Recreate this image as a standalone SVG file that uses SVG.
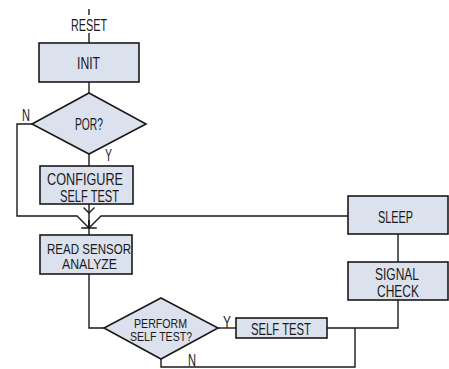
<svg xmlns="http://www.w3.org/2000/svg" width="449" height="369" viewBox="0 0 449 369">
<style>
.box{fill:#dce1ee;stroke:#1a1a1a;stroke-width:1.6}
.ln{fill:none;stroke:#1a1a1a;stroke-width:1.4}
text{font-family:"Liberation Sans",Arial,sans-serif;font-size:16.5px;fill:#1a1a1a}
.c{text-anchor:middle}
.m{font-size:15.5px}
.s{font-size:13.5px}
</style>
<defs>
<marker id="ah" markerUnits="userSpaceOnUse" markerWidth="14" markerHeight="14" refX="7" refY="7" orient="auto">
<path d="M1.5,1.5 L7,7 L1.5,12.5" fill="none" stroke="#1a1a1a" stroke-width="1.4"/>
</marker>
</defs>
<rect width="449" height="369" fill="#fff"/>
<g id="connectors">
<path class="ln" d="M89,9 V15"/>
<path class="ln" d="M89,33 V43"/>
<path class="ln" d="M89,82 V93"/>
<path class="ln" d="M89,154 V166"/>
<path class="ln" d="M89,204 V213" marker-end="url(#ah)"/>
<path class="ln" d="M89,213 V235"/>
<path class="ln" d="M32,124 H17 V216 H77 L89,228" marker-end="url(#ah)"/>
<path class="ln" d="M348,216 H101 L89,228" marker-end="url(#ah)"/>
<path class="ln" d="M398,234 V262"/>
<path class="ln" d="M89,274 V328 H104"/>
<path class="ln" d="M218,328 H236"/>
<path class="ln" d="M327,328 H398 V300"/>
<path class="ln" d="M161,359 V367 H355 V328"/>
</g>
<g id="reset"><text class="c" x="89" y="31" textLength="36" lengthAdjust="spacingAndGlyphs">RESET</text></g>
<g id="init"><rect class="box" x="39" y="43" width="100" height="39"/><text class="c" x="88.5" y="69" textLength="23" lengthAdjust="spacingAndGlyphs">INIT</text></g>
<g id="por"><polygon class="box" points="89,93 146,124 89,154 32,124"/><text class="c" x="89" y="130" textLength="28" lengthAdjust="spacingAndGlyphs">POR?</text>
<text x="22" y="121" textLength="8" lengthAdjust="spacingAndGlyphs">N</text>
<text x="105" y="161" textLength="7" lengthAdjust="spacingAndGlyphs">Y</text></g>
<g id="configure"><rect class="box" x="40" y="166" width="93" height="38"/><text class="c" x="85" y="185" textLength="76" lengthAdjust="spacingAndGlyphs">CONFIGURE</text><text class="c" x="89.5" y="201.5" textLength="59" lengthAdjust="spacingAndGlyphs">SELF TEST</text></g>
<g id="read"><rect class="box" x="40" y="235" width="92" height="39"/><text class="c m" x="89" y="253.5" textLength="84" lengthAdjust="spacingAndGlyphs">READ SENSOR</text><text class="c m" x="89.5" y="269" textLength="55" lengthAdjust="spacingAndGlyphs">ANALYZE</text></g>
<g id="perform"><polygon class="box" points="161,298 218,328 161,359 104,328"/><text class="c s" x="160.5" y="327.5" textLength="53" lengthAdjust="spacingAndGlyphs">PERFORM</text><text class="c s" x="161" y="341" textLength="62" lengthAdjust="spacingAndGlyphs">SELF TEST?</text>
<text x="223" y="327.5" textLength="8" lengthAdjust="spacingAndGlyphs">Y</text>
<text x="188" y="366" textLength="8" lengthAdjust="spacingAndGlyphs">N</text></g>
<g id="selftest"><rect class="box" x="236" y="318" width="91" height="20"/><text class="c" x="281" y="335" textLength="60" lengthAdjust="spacingAndGlyphs">SELF TEST</text></g>
<g id="sleep"><rect class="box" x="348" y="196" width="100" height="38"/><text class="c" x="395.5" y="223" textLength="35" lengthAdjust="spacingAndGlyphs">SLEEP</text></g>
<g id="signal"><rect class="box" x="348" y="262" width="100" height="38"/><text class="c" x="397" y="279.5" textLength="44" lengthAdjust="spacingAndGlyphs">SIGNAL</text><text class="c" x="398" y="296.5" textLength="42" lengthAdjust="spacingAndGlyphs">CHECK</text></g>
</svg>
